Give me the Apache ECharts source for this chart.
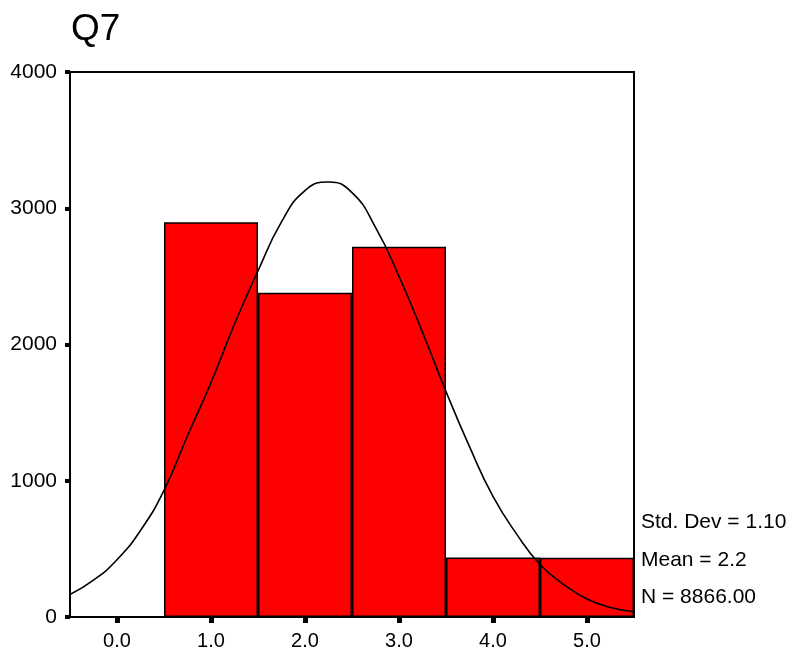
<!DOCTYPE html>
<html>
<head>
<meta charset="utf-8">
<script src="https://cdn.jsdelivr.net/npm/echarts@6/dist/echarts.min.js"></script>
<style>html,body{margin:0;padding:0;background:#fff;}#c{width:796px;height:658px;}</style>
</head>
<body>
<div id="c"></div>
<script>
var categories = ['0.0', '1.0', '2.0', '3.0', '4.0', '5.0'];
var counts = [0, 2897, 2380, 2718, 436, 435];
var yTicks = [0, 1000, 2000, 3000, 4000];
var curveX = [-0.5, -0.25, 0, 0.25, 0.5, 0.75, 1, 1.25, 1.5, 1.75, 2, 2.25, 2.5, 2.75, 3, 3.25, 3.5, 3.75, 4, 4.25, 4.5, 4.75, 5, 5.25, 5.5];
var curveY = [165, 270, 420, 635, 930, 1330, 1720, 2150, 2540, 2900, 3130, 3193, 3115, 2860, 2500, 2090, 1655, 1250, 885, 610, 385, 240, 132, 70, 38];
var statsLines = ['Std. Dev = 1.10', 'Mean = 2.2', 'N = 8866.00'];

var font = 'Liberation Sans, Arial, sans-serif';
var chart = echarts.init(document.getElementById('c'), null, {renderer: 'canvas'});
var curve = curveX.map(function (x, i) { return [x, curveY[i]]; });

chart.setOption({
  animation: false,
  backgroundColor: '#fff',
  title: {
    text: 'Q7', left: 66, top: 6,
    textStyle: {fontFamily: font, fontSize: 37, fontWeight: 'normal', color: '#000'}
  },
  grid: {left: 70, right: 162, top: 72, bottom: 41, show: true, borderColor: '#000', borderWidth: 2, backgroundColor: 'transparent'},
  xAxis: [{
    type: 'category', data: categories, boundaryGap: true,
    axisLine: {show: true, onZero: false, lineStyle: {color: '#000', width: 2}},
    axisTick: {show: true, alignWithLabel: true, length: 6, lineStyle: {color: '#000', width: 5}},
    axisLabel: {margin: 14, color: '#000', fontFamily: font, fontSize: 20},
    splitLine: {show: false}
  }, {
    type: 'value', min: -0.5, max: 5.5, show: false
  }],
  yAxis: {
    type: 'value', min: yTicks[0], max: yTicks[yTicks.length - 1], interval: 1000,
    axisLine: {show: true, onZero: false, lineStyle: {color: '#000', width: 2}},
    axisTick: {show: true, length: 5, lineStyle: {color: '#000', width: 4}},
    axisLabel: {margin: 13, color: '#000', fontFamily: font, fontSize: 21, formatter: function (v) { return String(v); }},
    splitLine: {show: false}
  },
  series: [{
    type: 'bar', data: counts, xAxisIndex: 0, barCategoryGap: '0%', barGap: '0%',
    itemStyle: {color: '#ff0000', borderColor: '#000', borderWidth: 1.5},
    z: 2
  }, {
    type: 'line', data: curve, xAxisIndex: 1, yAxisIndex: 0, smooth: 0.5,
    showSymbol: false, symbol: 'none',
    lineStyle: {color: '#000', width: 1.6},
    z: 3
  }],
  graphic: statsLines.map(function (t, i) {
    return {
      type: 'text', left: 641, top: 512 + i * 37.5,
      style: {text: t, fill: '#000', font: '21px ' + font}
    };
  })
});
</script>
</body>
</html>
